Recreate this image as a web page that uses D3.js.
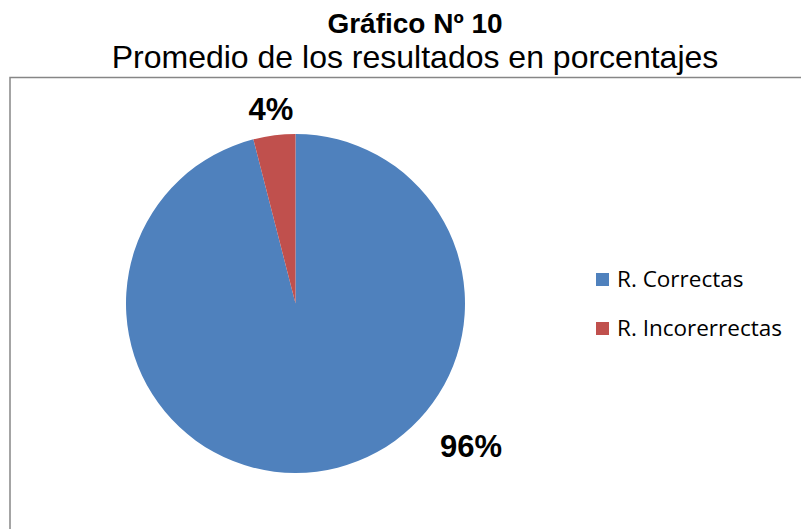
<!DOCTYPE html>
<html>
<head>
<meta charset="utf-8">
<script src="https://cdn.jsdelivr.net/npm/d3@7"></script>
<style>
  body { margin: 0; background: #fff; }
  svg { display: block; }
</style>
</head>
<body>
<svg id="chart" width="801" height="529"></svg>
<script>
// chart data
var categories = ["R. Correctas", "R. Incorerrectas"];
var values = [96, 4];
var labels = ["96%", "4%"];
var colors = ["#4F81BD", "#C0504D"];

var svg = d3.select("#chart"),
    width = +svg.attr("width"),
    height = +svg.attr("height");

// titles
svg.append("text")
    .attr("x", 415).attr("y", 33)
    .attr("text-anchor", "middle")
    .style("font-family", "Arial, 'Liberation Sans', sans-serif")
    .style("font-weight", "bold")
    .style("font-size", "28px")
    .text("Gráfico Nº 10");

svg.append("text")
    .attr("x", 415).attr("y", 68)
    .attr("text-anchor", "middle")
    .style("font-family", "Arial, 'Liberation Sans', sans-serif")
    .style("font-size", "32px")
    .text("Promedio de los resultados en porcentajes");

// chart area border (runs off the right and bottom)
svg.append("rect")
    .attr("x", 10).attr("y", 77.5)
    .attr("width", width + 20).attr("height", height)
    .attr("fill", "none")
    .attr("stroke", "#868686")
    .attr("stroke-width", 1.5);

// pie
var cx = 295.5, cy = 303.5, radius = 169.5;

var pie = d3.pie().sort(null).value(function(d) { return d; });
var arcs = pie(values);

var arc = d3.arc().innerRadius(0).outerRadius(radius);

var g = svg.append("g").attr("transform", "translate(" + cx + "," + cy + ")");

g.selectAll("path")
    .data(arcs)
  .enter().append("path")
    .attr("d", arc)
    .attr("fill", function(d, i) { return colors[i]; });

// data labels: the small slice sits outside its edge, the big one lower right
var labelAngle = [129 * Math.PI / 180, null];
var labelRadius = [226, 196];

g.selectAll("text.lbl")
    .data(arcs)
  .enter().append("text")
    .attr("class", "lbl")
    .attr("transform", function(d, i) {
      var a = labelAngle[i] != null ? labelAngle[i] : (d.startAngle + d.endAngle) / 2;
      var r = labelRadius[i];
      return "translate(" + (r * Math.sin(a)) + "," + (-r * Math.cos(a)) + ")";
    })
    .attr("text-anchor", "middle")
    .attr("dy", "0.36em")
    .style("font-family", "Arial, 'Liberation Sans', sans-serif")
    .style("font-weight", "bold")
    .style("font-size", "31px")
    .text(function(d, i) { return labels[i]; });

// legend
var legend = svg.append("g")
    .attr("transform", "translate(596,273)");

var item = legend.selectAll("g")
    .data(categories)
  .enter().append("g")
    .attr("transform", function(d, i) { return "translate(0," + (i * 49) + ")"; });

item.append("rect")
    .attr("width", 13).attr("height", 13)
    .attr("fill", function(d, i) { return colors[i]; });

item.append("text")
    .attr("x", 21).attr("y", 14)
    .style("font-family", "'Open Sans', Lato, sans-serif")
    .style("font-size", "22.5px")
    .style("fill", "#000")
    .text(function(d) { return d; });
</script>
</body>
</html>
